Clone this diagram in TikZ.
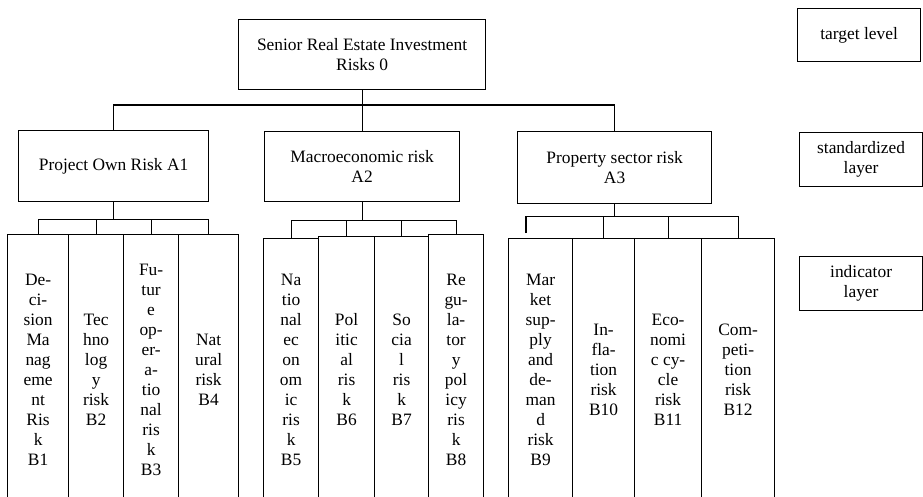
\documentclass[tikz,border=0pt]{standalone}
\usepackage{fontspec}
\setmainfont{Liberation Serif}
\newcommand\placebox[6]{\node[box,anchor=north west,minimum width={#4-#2},minimum height={#5-#3}] (#1) at (#2,#3) {#6};}
\newcommand\colbox[5]{\node[box,anchor=north west,minimum width={#4-#2},minimum height={738-2*#3}] (#1) at (#2,#3) {#5};}
\begin{document}
\begin{tikzpicture}[x=1pt,y=-1pt,
  box/.style={draw,line width=1.2pt,inner sep=0pt,align=center,font=\fontsize{17.4}{20}\selectfont},
  link/.style={line width=1.2pt}]
\useasboundingbox (0,0) rectangle (923,497);
\clip (0,0) rectangle (923,497);
% level labels
\placebox{tl}{797}{8}{920}{61}{target level}
\placebox{sl}{799}{132}{922}{186}{standardized\\layer}
\placebox{il}{799}{256}{922}{310}{indicator\\layer}
% target
\placebox{top}{238}{19}{485}{89}{Senior Real Estate Investment\\Risks 0}
% criteria
\placebox{A1}{18}{130}{208}{201}{Project Own Risk A1}
\placebox{A2}{264}{131}{459}{201}{Macroeconomic risk\\A2}
\placebox{A3}{517}{131}{711}{203}{Property sector risk\\A3}
% indicators
\colbox{B1}{7}{234}{68}{De-\\ci-\\sion\\Ma\\nag\\eme\\nt\\Ris\\k\\B1}
\colbox{B2}{68}{234}{123}{Tec\\hno\\log\\y\\risk\\B2}
\colbox{B3}{123}{234}{178}{Fu-\\tur\\e\\op-\\er-\\a-\\tio\\nal\\ris\\k\\B3}
\colbox{B4}{178}{234}{238}{Nat\\ural\\risk\\B4}
\colbox{B5}{263}{238}{318}{Na\\tio\\nal\\ec\\on\\om\\ic\\ris\\k\\B5}
\colbox{B6}{318}{236}{374}{Pol\\itic\\al\\ris\\k\\B6}
\colbox{B7}{374}{236}{428}{So\\cia\\l\\ris\\k\\B7}
\colbox{B8}{428}{234}{483}{Re\\gu-\\la-\\tor\\y\\pol\\icy\\ris\\k\\B8}
\colbox{B9}{508}{238}{572}{Mar\\ket\\sup-\\ply\\and\\de-\\man\\d\\risk\\B9}
\colbox{B10}{572}{238}{634}{In-\\fla-\\tion\\risk\\B10}
\colbox{B11}{634}{238}{701}{Eco-\\nomi\\c cy-\\cle\\risk\\B11}
\colbox{B12}{701}{238}{774}{Com-\\peti-\\tion\\risk\\B12}
% connectors: target to criteria
\draw[link] (top.south) -- (A2.north);
\draw[link] (A1.north) -- ++(0,-25) -| (A3.north);
% A1 group
\draw[link] (A1.south) -- ++(0,17) coordinate (a1bus);
\draw[link] (B1.north) |- (a1bus) -| (B4.north);
\draw[link] (B2.north) -- (B2.north |- a1bus);
\draw[link] (B3.north) -- (B3.north |- a1bus);
% A2 group
\draw[link] (A2.south) -- ++(0,18) coordinate (a2bus);
\draw[link] (B5.north) |- (a2bus) -| (B8.north);
\draw[link] (B6.north) -- (B6.north |- a2bus);
\draw[link] (B7.north) -- (B7.north |- a2bus);
% A3 group
\draw[link] (A3.south) -- ++(0,12) coordinate (a3bus);
\coordinate (b9in) at (526,233);
\draw[link] (b9in) |- (a3bus) -| (B12.north);
\draw[link] (B10.north) -- (B10.north |- a3bus);
\draw[link] (B11.north) -- (B11.north |- a3bus);
\end{tikzpicture}
\end{document}
